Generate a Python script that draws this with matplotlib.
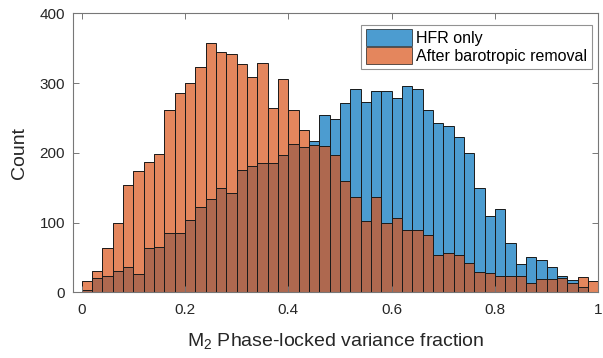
import numpy as np
import matplotlib
matplotlib.use("Agg")
import matplotlib.pyplot as plt

plt.rcParams['font.family'] = ['Liberation Sans', 'DejaVu Sans']
plt.rcParams['mathtext.fontset'] = 'custom'
plt.rcParams['mathtext.rm'] = 'Liberation Sans'

# bin edges of the histogram (width 0.02 from 0 to 1)
bin_width = 0.02
bin_left = np.round(np.arange(0, 1, bin_width), 2)

# counts per bin
hfr_only = [3, 20, 23, 31, 36, 26, 64, 65, 85, 85,
            103, 122, 134, 150, 143, 176, 181, 185, 186, 197,
            213, 208, 217, 254, 248, 271, 291, 273, 288, 288,
            278, 295, 292, 261, 243, 239, 222, 199, 150, 109,
            119, 71, 41, 51, 46, 36, 24, 17, 7, 1]
after_baro = [16, 31, 63, 99, 154, 174, 187, 198, 262, 286,
              300, 323, 357, 344, 342, 327, 309, 329, 264, 306,
              261, 232, 211, 210, 197, 159, 137, 102, 136, 99,
              106, 89, 90, 82, 54, 56, 53, 42, 29, 27,
              24, 23, 24, 14, 19, 19, 20, 14, 22, 16]

blue = '#0072BD'
orange = '#D95319'

fig = plt.figure(figsize=(6.03, 3.58), dpi=100)
ax = fig.add_axes([0.1215, 0.1835, 0.871, 0.7795])

ax.bar(bin_left, hfr_only, width=bin_width, align='edge', color=blue, alpha=0.7,
       edgecolor='none', label='HFR only')
ax.bar(bin_left, after_baro, width=bin_width, align='edge', color=orange, alpha=0.7,
       edgecolor='none', label='After barotropic removal')
# black bar outlines (MATLAB edges are opaque)
ax.bar(bin_left, hfr_only, width=bin_width, align='edge', fill=False,
       edgecolor='#1a1a1a', linewidth=0.7)
ax.bar(bin_left, after_baro, width=bin_width, align='edge', fill=False,
       edgecolor='#1a1a1a', linewidth=0.7)

ax.set_xlim(-0.016, 1.0)
ax.set_ylim(0, 400)
ax.set_xticks([0, 0.2, 0.4, 0.6, 0.8, 1])
ax.set_xticklabels(['0', '0.2', '0.4', '0.6', '0.8', '1'])
ax.set_yticks([0, 100, 200, 300, 400])

for s in ax.spines.values():
    s.set_color('#777777')
    s.set_linewidth(0.8)
ax.tick_params(direction='in', length=4, width=0.7, color='#777777',
               labelsize=11, labelcolor='#262626', top=True, right=True, pad=6)
ax.tick_params(axis='x', pad=8)

ax.set_xlabel('M$_2$ Phase-locked variance fraction', fontsize=14, color='#262626', labelpad=10)
ax.set_ylabel('Count', fontsize=14, color='#262626', labelpad=8)

leg = ax.legend(loc='upper right', bbox_to_anchor=(0.9876, 0.959), fontsize=11.5,
                frameon=True, fancybox=False, edgecolor='#777777',
                handlelength=2.9, handleheight=1.23, borderaxespad=0,
                borderpad=0.3, labelspacing=0.08, handletextpad=0.25)
leg.get_frame().set_linewidth(0.8)
for h in leg.legend_handles:
    h.set_alpha(0.7)
    h.set_edgecolor('#1a1a1a')
    h.set_linewidth(0.7)

fig.savefig('out.png', dpi=100)
